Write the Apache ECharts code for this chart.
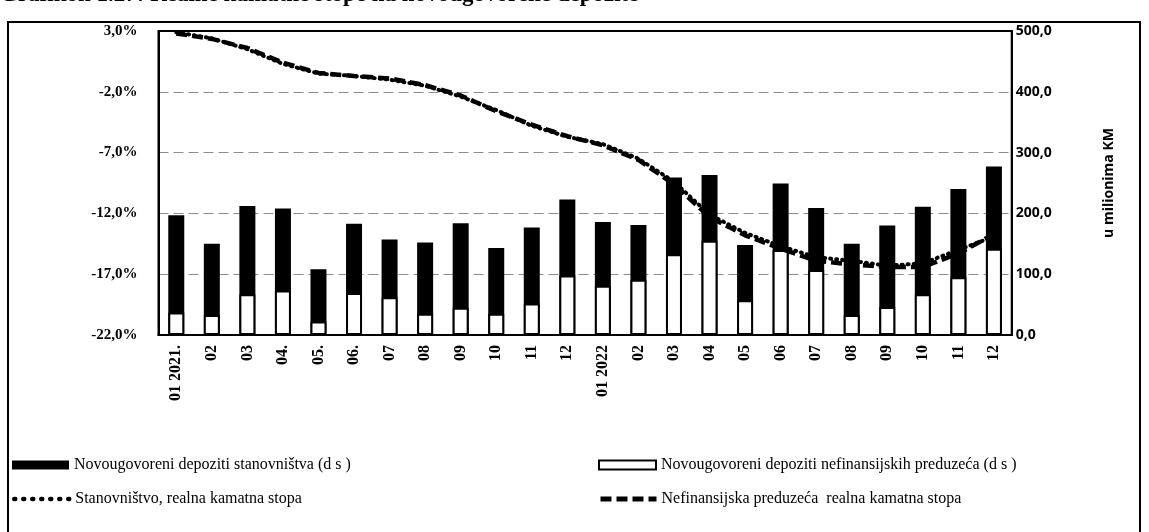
<!DOCTYPE html>
<html>
<head>
<meta charset="utf-8">
<script src="https://cdn.jsdelivr.net/npm/echarts@6/dist/echarts.min.js"></script>
<style>
  html, body { margin: 0; padding: 0; background: #fff; }
  #chart { width: 1149px; height: 532px; }
</style>
</head>
<body>
<div id="chart"></div>
<script>
// mjeseci 2021-2022
var months = ['01 2021.', '02', '03', '04.', '05.', '06.', '07', '08', '09', '10', '11', '12',
	'01 2022', '02', '03', '04', '05', '06', '07', '08', '09', '10', '11', '12'];
// novougovoreni depoziti, u milionima KM
var households = [197, 150, 212, 208, 108, 183, 157, 152, 184, 143, 177, 223,
	186, 181, 259, 263, 148, 249, 209, 150, 180, 211, 240, 277];
var corporates = [37, 33, 67, 73, 22, 69, 62, 35, 45, 35, 52, 98,
	81, 91, 133, 155, 57, 140, 107, 33, 46, 67, 95, 142];
// realne kamatne stope, %
var householdRate = [2.9, 2.4, 1.5, 0.3, -0.5, -0.7, -1.0, -1.5, -2.4, -3.5, -4.8, -5.7,
	-6.3, -7.5, -9.4, -12.1, -13.6, -14.7, -15.6, -15.9, -16.3, -16.1, -15.0, -13.9];
var corporateRate = [2.8, 2.35, 1.6, 0.4, -0.45, -0.7, -0.9, -1.45, -2.3, -3.6, -4.7, -5.65,
	-6.4, -7.6, -9.6, -12.3, -13.8, -14.9, -15.9, -16.2, -16.4, -16.4, -15.3, -13.7];

var names = ['Novougovoreni depoziti stanovništva (d s )',
	'Novougovoreni depoziti nefinansijskih preduzeća (d s )',
	'Stanovništvo, realna kamatna stopa',
	'Nefinansijska preduzeća  realna kamatna stopa'];

function comma(v) {
	return v.toFixed(1).replace('.', ',');
}

var legendText = { fontFamily: 'Liberation Serif', fontSize: 16, color: '#000' };

var chart = echarts.init(document.getElementById('chart'));
var option = {
	animation: false,
	title: {
		text: 'Grafikon 1.27: Realne kamatne stope na novougovorene depozite',
		left: 0,
		top: -16,
		padding: 0,
		textStyle: { fontFamily: 'Liberation Serif', fontSize: 23, fontWeight: 'bold', color: '#000' }
	},
	graphic: [{
		type: 'rect',
		shape: { x: 8, y: 22, width: 1132, height: 530 },
		style: { fill: 'none', stroke: '#000', lineWidth: 2 }
	}],
	legend: [
		{ data: [{ name: names[0], icon: 'rect' }], left: 12, top: 457, padding: 0,
			itemWidth: 57, itemHeight: 9, itemGap: 4, textStyle: legendText },
		{ data: [{ name: names[1], icon: 'rect' }], left: 598, top: 457, padding: 0,
			itemWidth: 57, itemHeight: 9, itemGap: 4, textStyle: legendText },
		{ data: [names[2]], left: 12, top: 491, padding: 0, itemWidth: 56, itemHeight: 9, itemGap: 4,
			itemStyle: { opacity: 0 }, lineStyle: { width: 4.5, type: [1, 8], cap: 'round' }, textStyle: legendText },
		{ data: [names[3]], left: 598, top: 491, padding: 0, itemWidth: 56, itemHeight: 9, itemGap: 6,
			itemStyle: { opacity: 0 }, lineStyle: { width: 5 }, textStyle: legendText }
	],
	grid: {
		left: 158.5,
		right: 137.3,
		top: 31,
		bottom: 197,
		show: true,
		borderColor: '#000',
		borderWidth: 2
	},
	xAxis: {
		type: 'category',
		data: months,
		axisLine: { onZero: false, lineStyle: { color: '#000', width: 2 } },
		axisTick: { show: false },
		axisLabel: {
			rotate: 90,
			margin: 10,
			interval: 0,
			color: '#000',
			fontFamily: 'Liberation Serif',
			fontWeight: 'bold',
			fontSize: 16
		}
	},
	yAxis: [{
		type: 'value',
		min: -22,
		max: 3,
		interval: 5,
		axisLine: { show: true, lineStyle: { color: '#000', width: 2 } },
		axisTick: { show: false },
		splitLine: { show: true, lineStyle: { color: '#000', width: 1, type: [10, 5], opacity: 0.45 } },
		axisLabel: {
			margin: 21,
			color: '#000',
			fontFamily: 'Liberation Serif',
			fontWeight: 'bold',
			fontSize: 15,
			formatter: function (v) { return comma(v) + '%'; }
		}
	}, {
		type: 'value',
		min: 0,
		max: 500,
		interval: 100,
		name: 'u milionima KM',
		nameLocation: 'middle',
		nameRotate: 90,
		nameGap: 90,
		nameTextStyle: { fontFamily: 'Open Sans', fontWeight: 'bold', fontSize: 14, color: '#000' },
		axisLine: { show: true, lineStyle: { color: '#000', width: 2 } },
		axisTick: { show: false },
		splitLine: { show: false },
		axisLabel: {
			margin: 4,
			color: '#000',
			fontFamily: 'Open Sans',
			fontWeight: 'bold',
			fontSize: 14,
			formatter: function (v) { return comma(v); }
		}
	}],
	series: [{
		name: names[0],
		type: 'bar',
		yAxisIndex: 1,
		barWidth: 16,
		itemStyle: { color: '#000' },
		data: households
	}, {
		name: names[1],
		type: 'bar',
		yAxisIndex: 1,
		barWidth: 16,
		barGap: '-100%',
		itemStyle: { color: '#fff', borderColor: '#000', borderWidth: 2 },
		data: corporates
	}, {
		name: names[2],
		type: 'line',
		yAxisIndex: 0,
		symbol: 'none',
		z: 5,
		itemStyle: { color: '#000' },
		lineStyle: { color: '#000', width: 4, type: [1, 5], cap: 'round' },
		data: householdRate
	}, {
		name: names[3],
		type: 'line',
		yAxisIndex: 0,
		symbol: 'none',
		z: 6,
		itemStyle: { color: '#000' },
		lineStyle: { color: '#000', width: 4.5, type: [11, 5] },
		data: corporateRate
	}]
};
chart.setOption(option);
</script>
</body>
</html>
